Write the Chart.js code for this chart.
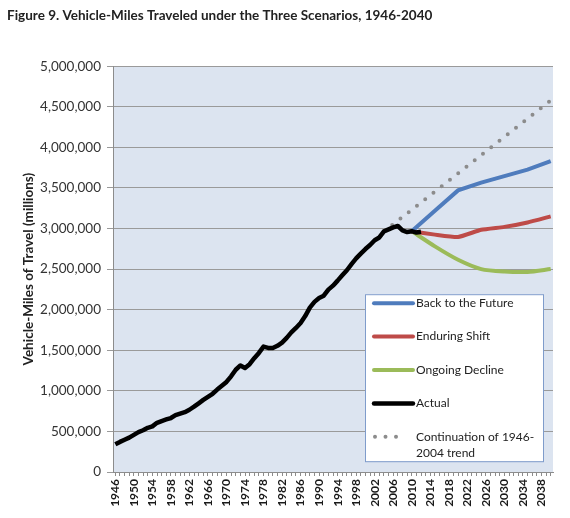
<!DOCTYPE html>
<html>
<head>
<meta charset="utf-8">
<script src="https://cdn.jsdelivr.net/npm/chart.js@4.4.1/dist/chart.umd.min.js"></script>
<style>
  html, body { margin: 0; padding: 0; background: #fff; }
</style>
</head>
<body>
<canvas id="graficaVmt" width="570" height="518"></canvas>
<script>
// Años del eje (1946-2040)
const firstYear = 1946;
const lastYear = 2040;
const years = Array.from({ length: lastYear - firstYear + 1 }, (_, i) => firstYear + i);

// Actual, 1946-2012 (millions of vehicle-miles)
const actualVmt = [
  341000, 371000, 398000, 424000, 458000, 491000, 514000, 544000, 562000, 606000,
  628000, 647000, 665000, 700000, 719000, 737000, 767000, 805000, 846000, 888000,
  926000, 964000, 1016000, 1062000, 1110000, 1179000, 1260000, 1313000, 1281000, 1328000,
  1402000, 1467000, 1545000, 1529000, 1527000, 1555000, 1595000, 1653000, 1720000, 1775000,
  1835000, 1921000, 2026000, 2096000, 2144000, 2172000, 2247000, 2296000, 2358000, 2423000,
  2486000, 2562000, 2632000, 2691000, 2747000, 2797000, 2856000, 2890000, 2965000, 2989000,
  3014000, 3031000, 2977000, 2957000, 2967000, 2950000, 2960000,
];

// Escenarios
const scenarioYears = [2010, 2015, 2020, 2025, 2030, 2035, 2040];
const backToFuture = [2967000, 3220000, 3470000, 3565000, 3645000, 3725000, 3830000];
const enduringShift = [2967000, 2925000, 2895000, 2985000, 3020000, 3075000, 3150000];
const ongoingDecline = [2967000, 2780000, 2615000, 2500000, 2470000, 2465000, 2500000];

// Tendencia 1946-2004 extendida
const trendYears = [2004, 2040];
const trendVmt = [2962000, 4578000];

const FONT = "Lato, 'Open Sans', sans-serif";

function onYears(ys, vals) {
  return years.map((y) => {
    const i = ys.indexOf(y);
    return i < 0 ? null : vals[i];
  });
}

function fmt(v) {
  return String(v).replace(/\B(?=(\d{3})+(?!\d))/g, ",");
}

// Fondo del área de trazado
const areaFondo = {
  id: "areaFondo",
  beforeDraw(chart) {
    const { ctx, chartArea: a } = chart;
    ctx.save();
    ctx.fillStyle = "#dce4f0";
    ctx.fillRect(a.left, a.top, a.right - a.left, a.bottom - a.top);
    ctx.restore();
  },
};

// Leyenda dentro del gráfico
const leyenda = {
  id: "leyenda",
  afterDraw(chart) {
    const { ctx, chartArea: a } = chart;
    const x = a.right - 188;
    const y = a.top + 228;
    const w = 178;
    const h = 167;
    ctx.save();
    ctx.fillStyle = "#fff";
    ctx.fillRect(x, y, w, h);
    ctx.strokeStyle = "#7f9ccb";
    ctx.lineWidth = 1;
    ctx.strokeRect(x + 0.5, y + 0.5, w, h);

    ctx.font = "12px " + FONT;
    ctx.textBaseline = "middle";
    chart.data.datasets.forEach((ds, i) => {
      const ly = y + 9 + i * 33.4;
      ctx.strokeStyle = ds.borderColor;
      ctx.lineWidth = ds.borderWidth;
      ctx.lineCap = "round";
      ctx.setLineDash(ds.borderDash || []);
      ctx.beginPath();
      if (ds.borderDash) {
        ctx.moveTo(x + 10, ly);
        ctx.lineTo(x + 41, ly);
      } else {
        ctx.moveTo(x + 9, ly);
        ctx.lineTo(x + 48, ly);
      }
      ctx.stroke();
      ctx.setLineDash([]);
      ctx.fillStyle = "#222";
      const lines = Array.isArray(ds.label) ? ds.label : [ds.label];
      lines.forEach((t, k) => ctx.fillText(t, x + 51, ly + k * 16));
    });
    ctx.restore();
  },
};

new Chart(document.getElementById("graficaVmt"), {
  type: "line",
  data: {
    labels: years,
    datasets: [
      {
        label: "Back to the Future",
        data: onYears(scenarioYears, backToFuture),
        borderColor: "#4f7cbd",
        borderWidth: 4,
        spanGaps: true,
        tension: 0,
        order: 1,
      },
      {
        label: "Enduring Shift",
        data: onYears(scenarioYears, enduringShift),
        borderColor: "#be4b48",
        borderWidth: 4,
        spanGaps: true,
        tension: 0.15,
        order: 1,
      },
      {
        label: "Ongoing Decline",
        data: onYears(scenarioYears, ongoingDecline),
        borderColor: "#9bbb59",
        borderWidth: 4,
        spanGaps: true,
        tension: 0.25,
        order: 1,
      },
      {
        label: "Actual",
        data: years.map((_, i) => (i < actualVmt.length ? actualVmt[i] : null)),
        borderColor: "#000",
        borderWidth: 4.5,
        borderJoinStyle: "round",
        order: 0,
      },
      {
        label: ["Continuation of 1946-", "2004 trend"],
        data: onYears(trendYears, trendVmt),
        borderColor: "#8c8c8c",
        borderWidth: 4,
        borderDash: [0, 10.5],
        borderCapStyle: "round",
        spanGaps: true,
        order: 2,
      },
    ],
  },
  options: {
    responsive: false,
    animation: false,
    elements: { point: { radius: 0, hoverRadius: 0 } },
    layout: { padding: { left: 7, right: 17, top: 6, bottom: 2 } },
    scales: {
      x: {
        type: "category",
        offset: true,
        grid: { drawOnChartArea: false, tickLength: 4, color: "#8c8c8c", offset: false },
        border: { color: "#8c8c8c" },
        ticks: {
          autoSkip: false,
          minRotation: 90,
          maxRotation: 90,
          padding: 3,
          color: "#1a1a1a",
          font: { family: FONT, size: 12, weight: "bold" },
          callback: (v, i) => ((years[i] - firstYear) % 4 === 0 ? String(years[i]) : ""),
        },
        afterFit(scale) {
          scale.height = 44;
        },
      },
      y: {
        min: 0,
        max: 5000000,
        grid: { color: "#9a9a9a", tickLength: 6 },
        border: { color: "#8c8c8c" },
        ticks: {
          stepSize: 500000,
          padding: 6,
          color: "#333",
          font: { family: FONT, size: 13.5 },
          callback: (v) => fmt(v),
        },
        title: {
          display: true,
          text: "Vehicle-Miles of Travel (millions)",
          color: "#222",
          font: { family: FONT, size: 13.5, weight: "bold" },
          padding: { top: 14, bottom: 0 },
        },
        afterFit(scale) {
          scale.width = 106;
        },
      },
    },
    plugins: {
      legend: { display: false },
      tooltip: { enabled: false },
      title: {
        display: true,
        text: "Figure 9. Vehicle-Miles Traveled under the Three Scenarios, 1946-2040",
        align: "start",
        color: "#222",
        font: { family: FONT, size: 13.5, weight: "bold" },
        padding: { top: 2, bottom: 42 },
      },
    },
  },
  plugins: [areaFondo, leyenda],
});
</script>
</body>
</html>
